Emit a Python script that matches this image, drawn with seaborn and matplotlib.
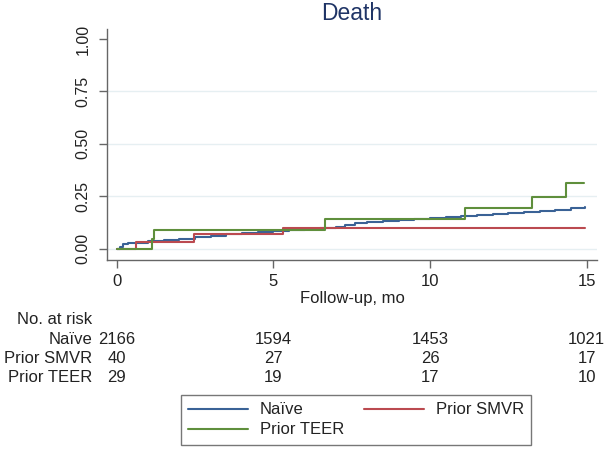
import matplotlib
matplotlib.use("Agg")
import matplotlib.pyplot as plt
import matplotlib.transforms as mtransforms
from matplotlib.lines import Line2D
import pandas as pd
import seaborn as sns

# Kaplan-Meier style cumulative incidence (months, fraction)
naive_t = [0, 0.1, 0.2, 0.35, 1.0, 1.5, 2.0, 2.5, 3.0, 3.5, 4.0, 4.5, 5.0, 5.5,
           6.0, 6.5, 7.0, 7.3, 7.6, 8.0, 8.5, 9.0, 9.5, 10.0, 10.5, 11.0, 11.5,
           12.0, 12.5, 13.0, 13.5, 14.0, 14.5, 14.95]
naive_v = [0, 0.010, 0.022, 0.028, 0.036, 0.042, 0.048, 0.055, 0.062, 0.068,
           0.074, 0.080, 0.086, 0.091, 0.095, 0.098, 0.105, 0.115, 0.124, 0.128,
           0.132, 0.137, 0.141, 0.145, 0.149, 0.154, 0.160, 0.165, 0.170, 0.175,
           0.180, 0.186, 0.192, 0.197]
smvr_t = [0, 0.62, 2.48, 5.30, 14.95]
smvr_v = [0, 0.033, 0.069, 0.097, 0.097]
teer_t = [0, 1.12, 1.20, 6.65, 11.10, 13.26, 14.34, 14.92]
teer_v = [0, 0.045, 0.089, 0.141, 0.193, 0.248, 0.313, 0.313]

groups = ["Naïve", "Prior SMVR", "Prior TEER"]
risk_times = [0, 5, 10, 15]
risk_naive = [2166, 1594, 1453, 1021]
risk_smvr = [40, 27, 26, 17]
risk_teer = [29, 19, 17, 10]

colors = {"Naïve": "#3a6296", "Prior SMVR": "#bb4a50", "Prior TEER": "#5f8f3c"}

df = pd.concat([
    pd.DataFrame({"t": naive_t, "v": naive_v, "group": groups[0]}),
    pd.DataFrame({"t": smvr_t, "v": smvr_v, "group": groups[1]}),
    pd.DataFrame({"t": teer_t, "v": teer_v, "group": groups[2]}),
])

sns.set_theme(style="white")
plt.rcParams["font.family"] = ["Liberation Sans", "DejaVu Sans"]

fig = plt.figure(figsize=(6.06, 4.5), dpi=100)
ax = fig.add_axes([0.1766, 0.4222, 0.8086, 0.5133])

# light horizontal grid (none at 1.00)
for yg in [0, 0.25, 0.5, 0.75]:
    ax.axhline(yg, color="#e6eff2", lw=1.0, zorder=0)

sns.lineplot(data=df, x="t", y="v", hue="group", palette=colors,
             estimator=None, drawstyle="steps-post", lw=1.5, legend=False, ax=ax)

ax.set_xlim(-0.31, 15.33)
ax.set_ylim(-0.054, 1.048)
ax.set_xticks(risk_times)
ax.set_yticks([0, 0.25, 0.5, 0.75, 1.0])
ax.set_yticklabels(["0.00", "0.25", "0.50", "0.75", "1.00"], rotation=90, va="center")
ax.tick_params(axis="both", direction="out", length=6, width=1, color="#666666",
               labelcolor="#222222", labelsize=12, bottom=True, left=True)
ax.tick_params(axis="x", pad=4)
ax.tick_params(axis="y", pad=6, labelsize=11.5)
for side in ["top", "right"]:
    ax.spines[side].set_visible(False)
for side in ["left", "bottom"]:
    ax.spines[side].set_color("#666666")
    ax.spines[side].set_linewidth(1)

ax.set_xlabel("Follow-up, mo", fontsize=12, color="#222222", va="center")
ax.xaxis.set_label_coords(0.5, -0.1645)
ax.set_ylabel("")

fig.text(352 / 606, 1 - 13 / 450, "Death", fontsize=16.5, color="#1f3466",
         ha="center", va="center")

# number-at-risk table
trans = mtransforms.blended_transform_factory(ax.transData, fig.transFigure)
fig.text(17 / 606, 1 - 320 / 450, "No. at risk", fontsize=12, color="#222222",
         ha="left", va="center")
rows_y = [339.3, 358.3, 377.3]
for name, counts, ypx in zip(groups, [risk_naive, risk_smvr, risk_teer], rows_y):
    fig.text(92 / 606, 1 - ypx / 450, name, fontsize=12, color="#222222",
             ha="right", va="center")
    for tt, n in zip(risk_times, counts):
        ax.text(tt, 1 - ypx / 450, str(n), transform=trans, fontsize=12,
                color="#222222", ha="center", va="center", clip_on=False)

handles = [Line2D([], [], color=colors[g], lw=1.5) for g in groups]
order = [0, 2, 1]
leg = fig.legend([handles[i] for i in order], [groups[i] for i in order],
                 loc="center", bbox_to_anchor=(356 / 606, 1 - 420 / 450),
                 ncol=2, fontsize=12, handlelength=3.6, handletextpad=0.7,
                 columnspacing=1.2, labelspacing=0.3, borderpad=0.45,
                 fancybox=False, frameon=True)
leg.get_frame().set_edgecolor("#555555")
leg.get_frame().set_linewidth(1)
for txt in leg.get_texts():
    txt.set_color("#222222")

fig.savefig("out.png", dpi=100)
plt.close(fig)
